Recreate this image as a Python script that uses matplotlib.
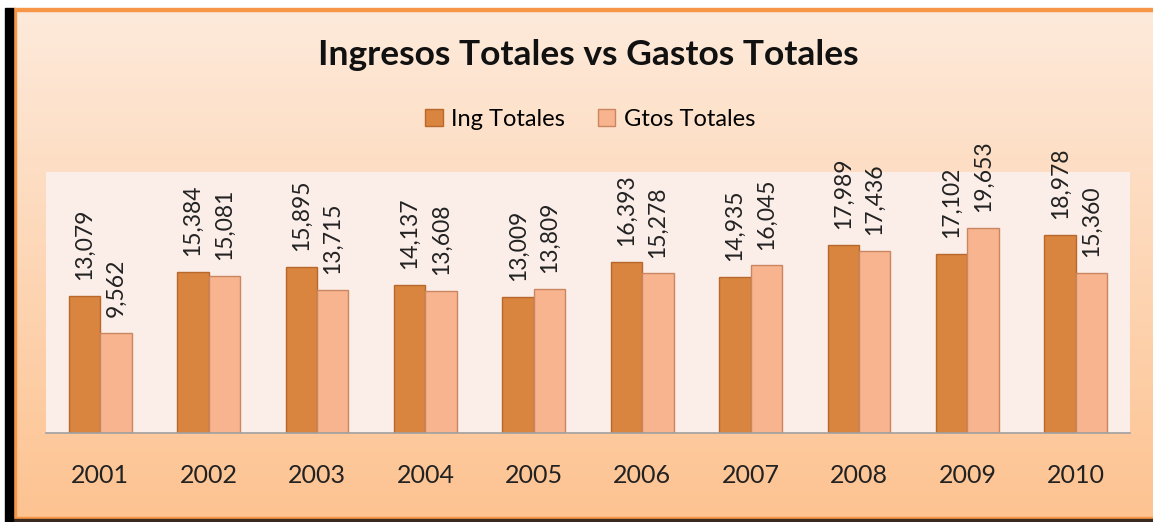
import matplotlib
matplotlib.use("Agg")
import matplotlib.pyplot as plt
import numpy as np
from matplotlib.patches import Rectangle

# datos
anios = ['2001', '2002', '2003', '2004', '2005', '2006', '2007', '2008', '2009', '2010']
ing_totales = [13079, 15384, 15895, 14137, 13009, 16393, 14935, 17989, 17102, 18978]
gtos_totales = [9562, 15081, 13715, 13608, 13809, 15278, 16045, 17436, 19653, 15360]

W, H = 1153, 522
plt.rcParams['font.family'] = ['Lato', 'DejaVu Sans']

fig = plt.figure(figsize=(W / 100, H / 100), dpi=100)

# fondo: degradado y marco
bg = fig.add_axes([0, 0, 1, 1])
bg.set_xlim(0, W)
bg.set_ylim(H, 0)
bg.axis('off')
top = np.array([253, 234, 219]) / 255
bot = np.array([254, 195, 145]) / 255
t = np.linspace(0, 1, 256)[:, None]
grad = (top[None, :] * (1 - t) + bot[None, :] * t)[:, None, :]
bg.imshow(grad, extent=(13, W, 518, 9), aspect='auto', zorder=0)
bg.add_patch(Rectangle((0, 0), W, 8, color='white', zorder=1))
bg.add_patch(Rectangle((13, 8), W, 2.5, color='#F79646', zorder=2))
bg.add_patch(Rectangle((13, 8), 2.5, H, color='#F79646', zorder=2))
bg.add_patch(Rectangle((13, 516.5), W, 2.5, color='#F79646', zorder=2))
bg.add_patch(Rectangle((13, 519), W, 3, color='#3a2a20', zorder=2))
bg.add_patch(Rectangle((5, 8), 8, H, color='black', zorder=3))

ax = fig.add_axes([46 / W, 1 - 433 / H, (1130 - 46) / W, (433 - 172) / H])
ax.set_facecolor('#FBEEE9')
x = np.arange(len(anios))
w = 0.29
b1 = ax.bar(x - w / 2, ing_totales, w, color='#D9843F', edgecolor='#B8682C',
            linewidth=1, label='Ing Totales', zorder=2)
b2 = ax.bar(x + w / 2, gtos_totales, w, color='#F8B48F', edgecolor='#C98660',
            linewidth=1, label='Gtos Totales', zorder=2)

for bars, vals in ((b1, ing_totales), (b2, gtos_totales)):
    for r, v in zip(bars, vals):
        ax.annotate(f'{v:,}', (r.get_x() + r.get_width() / 2, v),
                    xytext=(0, 11.5), textcoords='offset points',
                    rotation=90, ha='center', va='bottom', fontsize=16.5,
                    color='#222222', annotation_clip=False)

ax.set_xlim(-0.5, len(anios) - 0.5)
ax.set_ylim(0, 25000)
ax.set_xticks(x)
ax.set_xticklabels(anios, fontsize=18, color='#222222')
ax.tick_params(axis='x', length=0, pad=22)
ax.set_yticks([])
for s in ('top', 'right', 'left'):
    ax.spines[s].set_visible(False)
ax.spines['bottom'].set_color('#A0A0A0')
ax.spines['bottom'].set_linewidth(1.2)

fig.text(588 / W, 1 - 55 / H, 'Ingresos Totales vs Gastos Totales',
         ha='center', va='center', fontsize=25.5, fontweight='bold', color='#111111')
fig.legend(handles=[b1, b2], loc='center', bbox_to_anchor=(590 / W, 1 - 119 / H),
           ncol=2, frameon=False, fontsize=17, handlelength=0.75, handleheight=0.75,
           handletextpad=0.35, columnspacing=1.4)

fig.savefig('out.png', dpi=100)
